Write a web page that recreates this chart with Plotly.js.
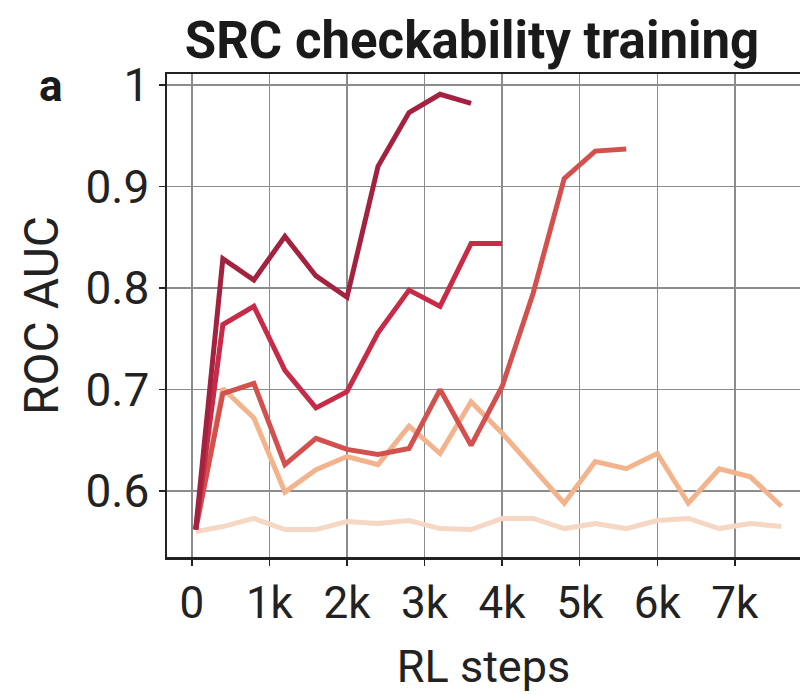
<!DOCTYPE html>
<html>
<head>
<meta charset="utf-8">
<script src="https://cdn.plot.ly/plotly-3.0.1.min.js"></script>
<style>html,body{margin:0;padding:0;background:#fff;}#chart{width:811px;height:695px;}</style>
</head>
<body>
<div id="chart"></div>
<script>
// RL steps for each checkpoint
const stepsLong = [50, 400, 800, 1200, 1600, 2000, 2400, 2800, 3200, 3600, 4000, 4400, 4800, 5200, 5600, 6000, 6400, 6800, 7200, 7600];

// Series values (ROC AUC)
const seriesDark   = [0.562, 0.829, 0.808, 0.851, 0.812, 0.791, 0.920, 0.973, 0.991, 0.982];
const seriesCrimson= [0.562, 0.764, 0.782, 0.719, 0.682, 0.698, 0.756, 0.798, 0.782, 0.844, 0.844];
const seriesRed    = [0.562, 0.696, 0.706, 0.626, 0.652, 0.641, 0.636, 0.642, 0.700, 0.645, 0.703, 0.795, 0.908, 0.935, 0.937];
const seriesPeach  = [0.562, 0.701, 0.672, 0.599, 0.621, 0.634, 0.626, 0.664, 0.637, 0.688, 0.657, 0.622, 0.588, 0.629, 0.622, 0.637, 0.588, 0.622, 0.614, 0.585];
const seriesLight  = [0.560, 0.565, 0.573, 0.562, 0.562, 0.570, 0.568, 0.571, 0.563, 0.562, 0.573, 0.573, 0.563, 0.568, 0.563, 0.571, 0.573, 0.563, 0.568, 0.565];

const xTickVals = [0, 1000, 2000, 3000, 4000, 5000, 6000, 7000];
const xTickText = ["0", "1k", "2k", "3k", "4k", "5k", "6k", "7k"];
const yTickVals = [0.6, 0.7, 0.8, 0.9, 1.0];
const yTickText = ["0.6", "0.7", "0.8", "0.9", "1"];

const seriesList = [
  {y: seriesLight,   color: "#f6d7c3"},
  {y: seriesPeach,   color: "#f3b48d"},
  {y: seriesRed,     color: "#d2514f"},
  {y: seriesCrimson, color: "#c62b47"},
  {y: seriesDark,    color: "#a3223f"}
];

const traces = seriesList.map(s => ({
  type: "scatter",
  mode: "lines",
  x: stepsLong.slice(0, s.y.length),
  y: s.y,
  line: {color: s.color, width: 5},
  hoverinfo: "skip",
  showlegend: false
}));

const FONT = "Roboto, 'Liberation Sans', sans-serif";

const layout = {
  width: 811,
  height: 695,
  margin: {l: 167, r: 11, t: 74, b: 138},
  paper_bgcolor: "#ffffff",
  plot_bgcolor: "#ffffff",
  font: {family: FONT, color: "#222"},
  title: {
    text: "<b>SRC checkability training</b>",
    font: {family: "Roboto, sans-serif", size: 51, color: "#1a1a1a"},
    xref: "container", yref: "container",
    x: 0.582, y: 1 - 40/695,
    xanchor: "center", yanchor: "middle"
  },
  xaxis: {
    range: [-320, 7840],
    tickvals: xTickVals,
    ticktext: xTickText,
    tickfont: {size: 44, color: "#222"},
    showgrid: true,
    gridcolor: "#8c8c8c",
    gridwidth: 1.5,
    zeroline: false,
    showline: true,
    linecolor: "#222",
    linewidth: 2.5,
    mirror: true,
    ticks: "outside",
    ticklen: 6,
    tickwidth: 1.5,
    tickcolor: "#222",
    title: {text: "RL steps", font: {size: 45, color: "#222"}, standoff: 22}
  },
  yaxis: {
    range: [0.535, 1.011],
    tickvals: yTickVals,
    ticktext: yTickText,
    tickfont: {size: 46, color: "#222"},
    showgrid: true,
    gridcolor: "#8c8c8c",
    gridwidth: 1.5,
    zeroline: false,
    showline: true,
    linecolor: "#222",
    linewidth: 2.5,
    ticks: "outside",
    ticklen: 6,
    tickwidth: 1.5,
    tickcolor: "#222",
    title: {text: "ROC AUC", font: {size: 48, color: "#222"}, standoff: 12}
  },
  annotations: [{
    text: "<b>a</b>",
    xref: "paper", yref: "paper",
    x: -0.183, y: 0.975,
    xanchor: "center", yanchor: "middle",
    showarrow: false,
    font: {family: "Roboto, sans-serif", size: 44, color: "#1a1a1a"}
  }]
};

Plotly.newPlot("chart", traces, layout, {displayModeBar: false, staticPlot: true});
</script>
</body>
</html>
